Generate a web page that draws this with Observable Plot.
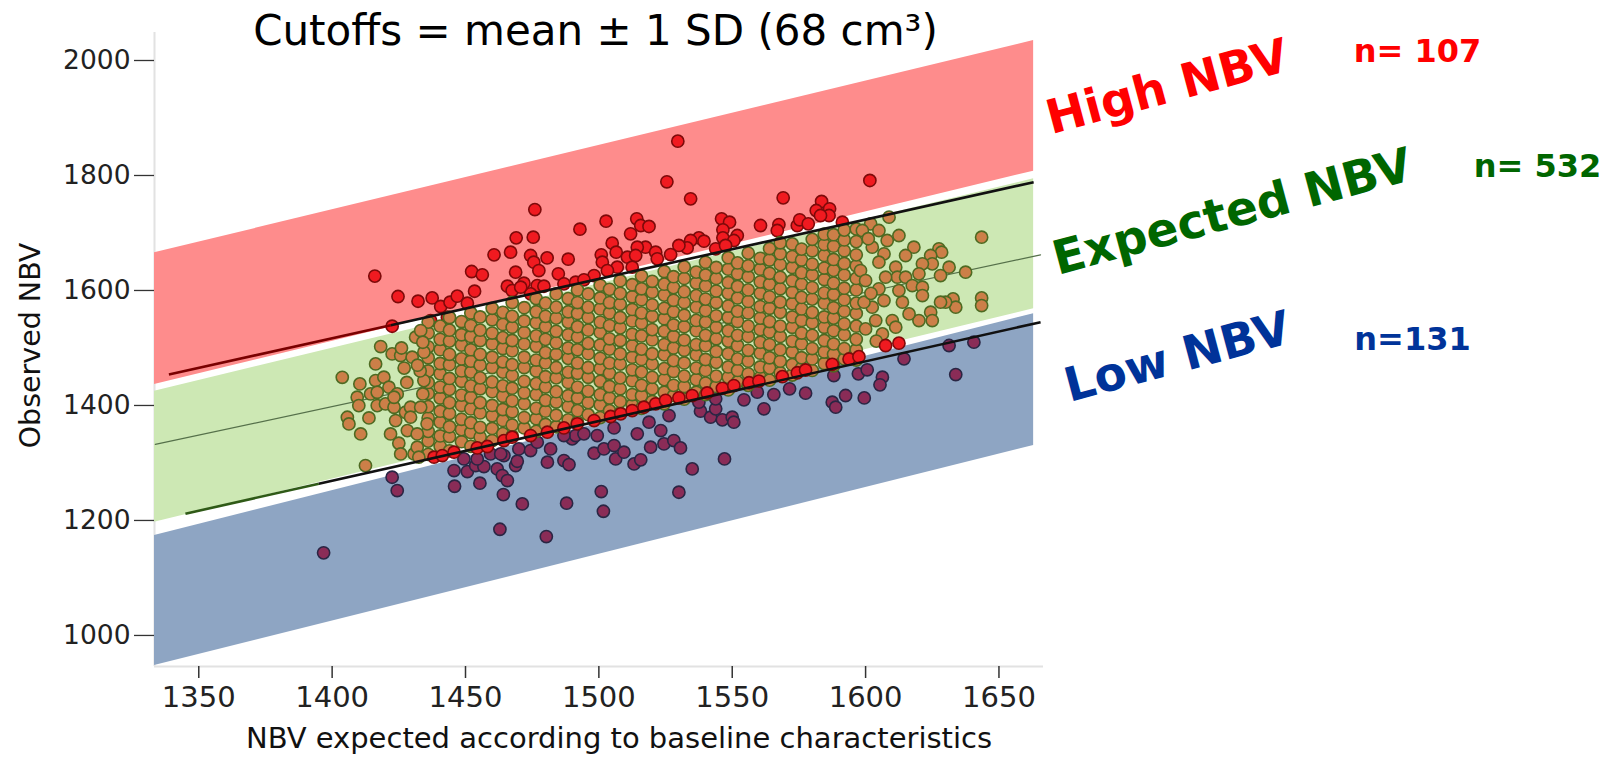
<!DOCTYPE html>
<html><head><meta charset="utf-8">
<script src="https://cdn.jsdelivr.net/npm/d3@7"></script>
<script src="https://cdn.jsdelivr.net/npm/@observablehq/plot@0.6"></script>
<style>body{margin:0;background:#fff}</style>
</head><body><div id="chart"></div>
<script>
// ---- tick labels / text ----
const xTicks = [1350, 1400, 1450, 1500, 1550, 1600, 1650];
const yTicks = [1000, 1200, 1400, 1600, 1800, 2000];
const titleText = "Cutoffs = mean \u00B1 1 SD (68 cm\u00B3)";
const xTitle = "NBV expected according to baseline characteristics";
const yTitle = "Observed NBV";
const groupLabels = ["High NBV", "Expected NBV", "Low NBV"];
const groupCounts = ["n= 107", "n= 532", "n=131"];

// ---- bands (x at left / right edge, lower and upper observed NBV) ----
const bandX = [1333.4, 1663];
const highBandLower = [1436.5, 1807.5];
const highBandUpper = [1665.6, 2034.8];
const expectedBandLower = [1197, 1568.2];
const expectedBandUpper = [1424.9, 1794.3];
const lowBandLower = [947.8, 1330.4];
const lowBandUpper = [1173.9, 1559.5];

// ---- cutoff lines and mean line ----
const upperCutX = [1338.8, 1422, 1663];
const upperCutY = [1453.9, 1539.7, 1788.3];
const lowerCutX = [1345, 1395, 1665.6];
const lowerCutY = [1211.7, 1264, 1544.9];
const meanLineX = [1333.7, 1665.6];
const meanLineY = [1332.2, 1662];

// ---- points: [expected, observed] ----
const highPoints = [[1416,1625],[1424.7,1589.5],[1432.2,1581.3],[1437.5,1587.1],[1440.7,1572.1],[1444.2,1579.6],[1446.9,1590.1],[1450.7,1577.9],[1453.4,1598.7],[1452.3,1633],[1456.3,1627.2],[1460.7,1662],[1466.9,1666.6],[1469,1691.5],[1475.4,1692.7],[1476,1740.8],[1468.8,1631.8],[1465.7,1607.4],[1467.5,1599.9],[1471.9,1612.7],[1474.4,1660.8],[1475.6,1649.2],[1477.5,1634.7],[1480.6,1656.7],[1476.9,1608.6],[1474.4,1594.1],[1470.7,1605.7],[1484.8,1628.9],[1488.5,1654.4],[1492.9,1706.6],[1502.7,1720.5],[1505,1682.3],[1506.5,1666.6],[1500.9,1662],[1501.3,1649.2],[1498.2,1626],[1506.9,1640.5],[1511.9,1698.5],[1514.2,1724.6],[1515.7,1713],[1518.8,1711.3],[1517.5,1675.3],[1514.4,1675.3],[1510.7,1657.9],[1513.8,1660.8],[1512.5,1640.5],[1521.3,1666.6],[1521.9,1655],[1525.5,1789],[1422.5,1537.8],[1436.9,1547.7],[1443.2,1553.5],[1479.4,1607.4],[1486.9,1611.5],[1491.3,1614.4],[1494.4,1618.5],[1503.2,1634.7],[1529.6,1859.7],[1534.4,1759.4],[1569.1,1761.1],[1601.6,1791.3],[1583.5,1754.8],[1581.5,1739.1],[1586.5,1742],[1586.3,1730.4],[1583.1,1730.4],[1546,1724.6],[1549,1718.8],[1546.5,1705.5],[1546.5,1691.5],[1551.9,1695.6],[1550.6,1686.9],[1560.6,1713],[1567.5,1714.7],[1566.9,1704.3],[1574.4,1713],[1575.3,1722.9],[1578.5,1715.9],[1591.3,1718.8],[1537.5,1691.5],[1534.4,1686.9],[1533.1,1674.1],[1530,1678.3],[1526.9,1662.5],[1539.4,1685.7],[1543.8,1672.4],[1547.5,1678.3]];

const boundaryPoints = [[1438.2,1310],[1441.3,1312.9],[1445.7,1318.7],[1454.4,1326.2],[1458.2,1328.6],[1464.4,1339],[1467.5,1344.8],[1474.4,1347.7],[1480.7,1353.5],[1486.9,1361],[1491.9,1368],[1498.2,1373.8],[1504.4,1380.8],[1508.2,1385.4],[1512.5,1391.2],[1516.9,1397],[1521.3,1402.8],[1525,1409],[1530,1413.3],[1535,1417.2],[1540.6,1421.8],[1546.3,1429.8],[1550.6,1434.6],[1556.3,1439.5],[1560,1442.4],[1568.8,1450.1],[1574.4,1456.9],[1577.5,1461.7],[1587.5,1471.6],[1593.8,1480.8],[1597.5,1484.9],[1607.5,1504.3],[1612.5,1508.4]];

const lowPoints = [[1396.8,1143.7],[1422.5,1275.2],[1424.4,1252],[1445.9,1259.5],[1455.4,1264.8],[1450.7,1285.1],[1445.7,1286.8],[1453.8,1295.5],[1456.9,1293.8],[1461.9,1289.7],[1463.8,1278.1],[1465.7,1269.4],[1464.2,1245],[1471.3,1228.8],[1462.9,1184.7],[1480.3,1172],[1487.9,1230],[1500.9,1250.3],[1501.7,1216],[1468.8,1295.5],[1469.4,1303],[1464.4,1312.9],[1470,1324.5],[1474.4,1321.6],[1476.9,1336.1],[1480.7,1301.3],[1481.9,1324.5],[1486.9,1304.2],[1488.8,1297.2],[1490,1341.9],[1491.3,1347.7],[1498.2,1317],[1501.9,1324.5],[1505.7,1330.3],[1506.3,1307.1],[1509.4,1318.7],[1513.2,1298.4],[1515.7,1305.4],[1514.4,1350.6],[1519.4,1327.4],[1518.8,1370.9],[1523.2,1356.4],[1524.4,1333.2],[1505.7,1361],[1499.4,1347.7],[1494.4,1350.6],[1486.9,1347.7],[1459.4,1315.8],[1454.4,1307.1],[1449.4,1307.1],[1463.2,1315.8],[1526.3,1382.5],[1528.1,1339],[1530.6,1326.2],[1535,1289.7],[1530,1249.1],[1547.1,1307.1],[1538.1,1390],[1541.9,1379.6],[1543.8,1394.1],[1546.3,1375],[1550,1379.6],[1550.6,1370.9],[1554.4,1409.8],[1561.9,1394.1],[1559.4,1423.1],[1565.6,1419],[1571.5,1428.9],[1577.5,1421.4],[1587.5,1405.7],[1588.8,1397],[1592.5,1417.3],[1599.5,1413.2],[1588.1,1452.1],[1597.3,1455],[1600.6,1462],[1606.3,1449.2],[1605.4,1435.9],[1614.4,1481.1],[1633.8,1453.8],[1631.3,1504.3],[1640.6,1510.1],[1537.5,1405.7],[1543.8,1411.5]];

const expectedLeft = [[1403.8,1449],[1410.4,1437.5],[1416.3,1472.3],[1418.2,1502.5],[1422.5,1489.7],[1425.7,1486.8],[1430,1483.9],[1431.3,1518.7],[1433.2,1530.3],[1409.4,1414.3],[1410,1399.8],[1405.7,1379.5],[1406.3,1367.9],[1410.7,1350.5],[1413.8,1378.3],[1416.9,1399.8],[1420,1402.7],[1423.2,1396.9],[1423.8,1373.7],[1421.9,1350.5],[1425,1334.3],[1425.7,1315.7],[1412.5,1295.4],[1430.7,1315.7],[1428.2,1356.3],[1431.9,1350.5],[1416.3,1443.3],[1419.4,1449.1],[1421.3,1431.7],[1414.4,1420.1],[1416.9,1423],[1424.4,1420.1],[1423.2,1414.3],[1427.5,1388.2],[1429.4,1396.9],[1434.4,1492.7],[1431.9,1327.4],[1432.5,1310],[1429.4,1379.6],[1433.2,1397],[1435.6,1368],[1434.4,1443.3],[1433,1460],[1432,1470],[1428,1440],[1427,1465],[1434,1420],[1426,1500],[1434,1510]];

const expectedRight = [[1643.5,1692.7],[1637.5,1631.8],[1643.5,1587.1],[1643.5,1573.8],[1632.8,1585.4],[1633.8,1570.9],[1630,1579.6],[1628.1,1579.6],[1631.3,1640.5],[1628.1,1626],[1627.5,1672.4],[1628.5,1666.6],[1624.4,1660.8],[1625,1646.3],[1621.3,1646.3],[1620,1628.9],[1618.1,1675.3],[1615,1660.8],[1611.3,1640.5],[1611.9,1623.1],[1615,1623.1],[1617.5,1608.6],[1621.3,1605.7],[1621.3,1591.2],[1624.4,1562.2],[1625,1547.7],[1620,1547.7],[1616.3,1559.3],[1613.8,1579.6],[1612.5,1599.9],[1610,1547.7],[1611.3,1536.1],[1606.3,1524.5],[1608.8,1727.5],[1601.9,1715.9],[1598.8,1704.3],[1605,1704.3],[1612.5,1695.6],[1608.1,1686.9],[1606.9,1663.7],[1602.5,1675.3],[1605,1649.2],[1607.5,1623.1],[1605,1602.8],[1606.9,1582.5],[1602.5,1570.9],[1603.8,1547.7],[1600,1533.2],[1598.1,1634.7],[1600,1617.3],[1599.4,1579.6],[1602,1595],[1604,1512],[1601,1690]];

// dense core of the "expected" cloud, read column by column: [x, y, y, ...]
const expectedCore = [
[1436,1315,1338,1355,1378,1398,1421,1440,1460,1483,1502,1526,1545],
[1440.5,1329,1347,1371,1390,1413,1432,1455,1473,1497,1515,1538],
[1444,1321,1346,1363,1386,1405,1428,1447,1471,1489,1512,1531,1553],
[1448.5,1337,1358,1376,1400,1418,1442,1460,1481,1505,1523,1546],
[1452,1329,1353,1370,1394,1414,1434,1458,1477,1497,1520,1539,1561],
[1455.5,1345,1362,1387,1405,1429,1448,1470,1489,1513,1531,1554],
[1460,1339,1360,1382,1400,1424,1441,1466,1484,1507,1526,1549,1569],
[1464,1351,1374,1393,1416,1434,1458,1476,1499,1518,1541,1562],
[1467.5,1347,1366,1389,1408,1430,1452,1471,1495,1513,1536,1555,1579],
[1472,1361,1379,1403,1422,1442,1466,1484,1507,1527,1547,1570],
[1476.5,1355,1377,1395,1419,1438,1460,1479,1503,1521,1544,1563,1586],
[1480,1367,1390,1409,1432,1450,1474,1492,1515,1537,1555,1578],
[1484,1363,1383,1406,1424,1448,1466,1489,1509,1529,1552,1571,1594],
[1488.5,1375,1398,1417,1440,1458,1482,1500,1523,1545,1563,1586],
[1492,1371,1391,1413,1432,1456,1474,1497,1519,1537,1560,1579,1601],
[1496,1384,1405,1425,1449,1466,1490,1508,1531,1553,1571,1594],
[1500.5,1379,1401,1419,1442,1464,1482,1505,1527,1545,1568,1587,1609],
[1504,1391,1413,1433,1456,1474,1498,1516,1539,1561,1579,1602],
[1508,1387,1407,1429,1448,1472,1490,1513,1535,1553,1576,1595,1617],
[1512.5,1401,1419,1443,1462,1484,1504,1524,1547,1567,1589,1610],
[1516,1395,1417,1435,1458,1480,1498,1521,1543,1561,1584,1603,1625],
[1520,1407,1429,1449,1472,1490,1514,1532,1555,1575,1597,1616],
[1524.5,1403,1423,1445,1464,1488,1506,1529,1551,1569,1592,1611,1633],
[1528,1417,1435,1459,1478,1500,1520,1540,1563,1583,1605,1624],
[1532,1411,1433,1451,1474,1496,1514,1537,1557,1579,1598,1621,1641],
[1536.5,1423,1445,1465,1488,1506,1530,1548,1571,1591,1613,1632],
[1540,1419,1439,1461,1480,1504,1522,1545,1565,1585,1608,1627,1649],
[1544,1433,1451,1475,1494,1516,1536,1556,1579,1599,1621,1640],
[1548.5,1427,1449,1467,1490,1512,1530,1553,1573,1595,1614,1637,1657],
[1552,1441,1461,1481,1504,1522,1546,1564,1587,1607,1629,1648],
[1556,1435,1455,1477,1496,1520,1538,1561,1581,1601,1624,1643,1665],
[1560.5,1449,1467,1491,1510,1532,1552,1572,1595,1615,1637,1656],
[1564,1444,1465,1483,1506,1528,1546,1569,1589,1611,1630,1653,1673],
[1568,1457,1477,1497,1520,1538,1562,1580,1603,1623,1645,1664,1683],
[1572.5,1453,1471,1493,1512,1536,1554,1577,1597,1617,1640,1659,1681],
[1576,1465,1483,1507,1526,1548,1568,1588,1611,1631,1653,1672],
[1580,1461,1481,1499,1522,1544,1562,1585,1605,1627,1646,1669,1689],
[1584.5,1473,1493,1513,1536,1554,1578,1596,1619,1639,1661,1680,1698],
[1588,1469,1489,1507,1530,1552,1570,1593,1613,1635,1654,1677,1697],
[1592,1481,1499,1523,1542,1564,1584,1604,1627,1647,1669,1688,1705],
[1596.5,1479,1497,1515,1538,1560,1578,1601,1621,1643,1662,1685,1707]
];

// ---- build tables ----
const band = (lo, hi) => bandX.map((x, i) => ({x, y1: lo[i], y2: hi[i]}));
const seg = (xs, ys) => xs.slice(1).map((x, i) => ({x1: xs[i], y1: ys[i], x2: x, y2: ys[i + 1]}));
const upperSegs = seg(upperCutX, upperCutY);
const lowerSegs = seg(lowerCutX, lowerCutY);
const expectedPoints = expectedCore.flatMap(([x, ...ys]) => ys.map(y => [x, y]))
  .concat(expectedLeft, expectedRight);

const dotOpts = (fill, stroke) => ({x: d => d[0], y: d => d[1], r: 6.1, fill, stroke, strokeWidth: 1.6});
const font = "DejaVu Sans";
const tr = (txt, color, dx, dy, size, rotate) => Plot.text([txt], {
  text: d => d, frameAnchor: "top-right", dx, dy, fill: color, fontSize: size,
  fontWeight: "bold", fontFamily: font, rotate, textAnchor: "middle", lineAnchor: "middle"
});

const chart = Plot.plot({
  width: 1619, height: 759,
  marginLeft: 154, marginRight: 576, marginTop: 32, marginBottom: 93,
  x: {domain: [1333.4, 1666.7]},
  y: {domain: [946, 2048.7]},
  style: {fontFamily: font, background: "#fff"},
  marks: [
    Plot.ruleX([1333.4], {stroke: "#e2e2e2", strokeWidth: 2}),
    Plot.ruleY([946], {stroke: "#e2e2e2", strokeWidth: 2}),
    Plot.areaY(band(highBandLower, highBandUpper), {x: "x", y1: "y1", y2: "y2", fill: "#fe8c8c"}),
    Plot.areaY(band(expectedBandLower, expectedBandUpper), {x: "x", y1: "y1", y2: "y2", fill: "#cde8b4"}),
    Plot.areaY(band(lowBandLower, lowBandUpper), {x: "x", y1: "y1", y2: "y2", fill: "#8ea5c3"}),
    Plot.line(meanLineX.map((x, i) => [x, meanLineY[i]]), {stroke: "#55704a", strokeWidth: 1.2}),
    Plot.dot(lowPoints, dotOpts("#8a2c57", "#2a2644")),
    Plot.dot(highPoints, dotOpts("#f01a20", "#7d0a0a")),
    Plot.dot(expectedPoints, dotOpts("#cc7f48", "#4e6a22")),
    Plot.dot(boundaryPoints, dotOpts("#f01a20", "#7d0a0a")),
    Plot.link(upperSegs, {x1: "x1", y1: "y1", x2: "x2", y2: "y2", stroke: (d, i) => i === 0 ? "#7a0000" : "#111", strokeWidth: 2.6}),
    Plot.link(lowerSegs, {x1: "x1", y1: "y1", x2: "x2", y2: "y2", stroke: (d, i) => i === 0 ? "#2f5a17" : "#111", strokeWidth: 2.6}),
    Plot.axisX(xTicks, {tickSize: 12, tickPadding: 8, fontSize: 29, stroke: "#333", fill: "#222", strokeWidth: 1.5, label: null, tickFormat: d3.format("d")}),
    Plot.axisY(yTicks, {tickSize: 20, tickPadding: 4, fontSize: 26.5, stroke: "#333", fill: "#222", strokeWidth: 1.3, label: null, tickFormat: d3.format("d")}),
    Plot.text([titleText], {text: d => d, frameAnchor: "top", dx: -3.5, dy: -1, fontSize: 42, fill: "#000", lineAnchor: "middle"}),
    Plot.text([xTitle], {text: d => d, frameAnchor: "bottom", dx: 20, dy: 72, fontSize: 29, fill: "#111", lineAnchor: "middle"}),
    Plot.text([yTitle], {text: d => d, frameAnchor: "left", dx: -124, dy: -4, fontSize: 28.5, fill: "#111", rotate: -90, textAnchor: "middle", lineAnchor: "middle"}),
    tr(groupLabels[0], "#ff0000", 124, 55, 47, -15),
    tr(groupLabels[1], "#006600", 189, 180, 47, -15),
    tr(groupLabels[2], "#003399", 134, 325, 47, -15),
    tr(groupCounts[0], "#ff0000", 374, 19, 32, 0),
    tr(groupCounts[1], "#006600", 494, 134.5, 32, 0),
    tr(groupCounts[2], "#003399", 369, 307, 32, 0)
  ]
});
document.getElementById("chart").appendChild(chart);
</script>
</body></html>
